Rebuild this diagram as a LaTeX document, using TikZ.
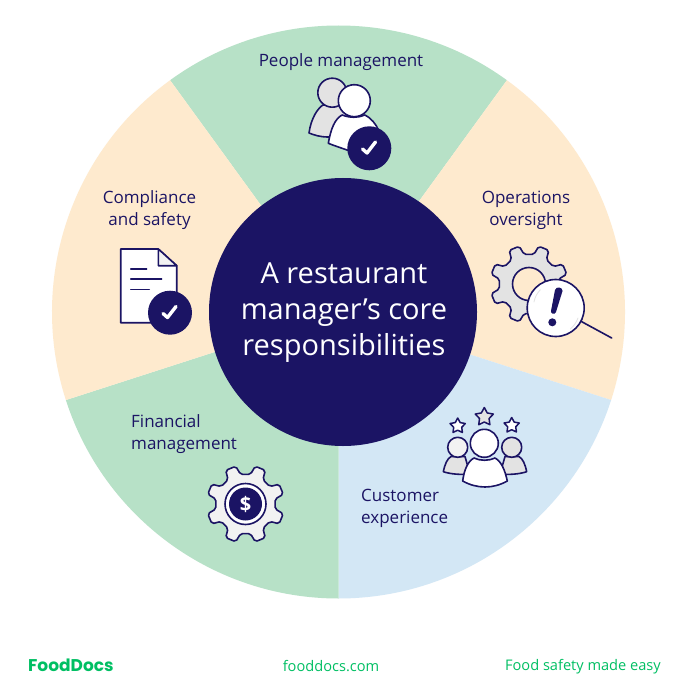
\documentclass[tikz,border=0pt]{standalone}
\usetikzlibrary{shapes.geometric}
\usepackage{fontspec}
\setmainfont{Open Sans}
\newfontfamily\logofont{Poppins}
\definecolor{navy}{HTML}{1B1464}
\definecolor{mint}{HTML}{B7E1C7}
\definecolor{peach}{HTML}{FEEACE}
\definecolor{sky}{HTML}{D3E7F5}
\definecolor{brand}{HTML}{00BF63}
\definecolor{ltgray}{HTML}{E3E3E3}
\definecolor{pale}{HTML}{F2F2F2}
\begin{document}
\begin{tikzpicture}[x=1pt,y=-1pt,line cap=round,line join=round,
    label/.style={text=navy,font=\fontsize{17}{22}\selectfont,inner sep=0pt,align=center},
    foot/.style={text=brand,font=\fontsize{14.6}{16}\selectfont,inner sep=0pt},
    icon/.style={draw=navy,line width=1.6pt},
    staricon/.style={icon,star,star points=5,star point ratio=1.9,inner sep=0pt,line width=1.5pt},
    tick/.style={draw=white,line width=3.4pt,line cap=round}]
    \useasboundingbox (0,0) rectangle (686,692);
    \fill[white] (0,0) rectangle (686,692);
    \def\cx{338.5} % wheel centre
    \def\cy{312}
    \def\R{286.5}
    % sectors
    \foreach \a/\b/\c in {-126/-54/mint,-54/17.9/peach,17.9/90/sky,90/162.1/mint,162.1/234/peach}
        \fill[\c] (\cx,\cy) -- ++(\a:\R) arc (\a:\b:\R) -- cycle;
    \fill[navy] (343,312) circle (134);
    \node[text=white,font=\fontsize{29}{36}\selectfont,align=center,inner sep=0pt] (title) at (344,312.5) {A restaurant\\manager’s core\\responsibilities};
    % labels
    \node[label] (people) at (341,62) {People management};
    \node[label] (operations) at (526,210) {Operations\\oversight};
    \node[label] (compliance) at (149.5,210) {Compliance\\and safety};
    \node[label,align=left,anchor=west] (financial) at (131,434) {Financial\\management};
    \node[label,align=left,anchor=west] (customer) at (361,508) {Customer\\experience};
    % people icon
    \draw[icon,fill=ltgray] (309,133) .. controls (311,118) and (318,108) .. (323,105) -- (345,105) -- (352,138) -- (328,137) .. controls (320,137) and (314,135) .. (309,133) -- cycle;
    \draw[icon,fill=ltgray] (332.3,92.7) circle (14.5);
    \draw[icon,fill=white] (328.3,143.3) .. controls (331,128) and (335,119) .. (342,115) .. controls (350,118) and (358,118) .. (365,115) .. controls (371,118) and (376,124) .. (379,131) -- (372,160) .. controls (355,152) and (340,148) .. (328.3,143.3) -- cycle;
    \draw[icon,fill=white] (354.3,100.7) circle (16);
    \fill[navy] (369.3,148.3) circle (22);
    \draw[tick] (362.5,149) -- (367,153) -- (375.5,142);
    % operations icon
    \begin{scope}[shift={(529,284)}]
        \draw[icon,fill=ltgray,rounded corners=2pt] (9.5:30) \foreach \k in {0,...,7} { -- ({22.5+45*\k-13}:30) -- ({22.5+45*\k-8}:39) -- ({22.5+45*\k+8}:39) -- ({22.5+45*\k+13}:30) } -- cycle;
        \draw[icon,fill=peach] (0,0) circle (16.5);
    \end{scope}
    \draw[navy,line width=1.6pt] (581.7,321.7) -- (611.7,338);
    \draw[icon,fill=white] (555.7,308) circle (28.5);
    \fill[navy] (555,290) .. controls (556,286) and (563,287) .. (562.5,291) -- (556,312) .. controls (555,315) and (550.5,314) .. (551,311) -- cycle;
    \fill[navy] (552.3,322.3) circle (4);
    \draw[ltgray,line width=.8pt] (534,302) arc (190:225:23);
    \draw[ltgray,line width=.8pt] (578,318) arc (20:50:26);
    % customer icon
    \draw[icon,fill=ltgray] (443.3,471.7) .. controls (445,464) and (447,459) .. (451,456.5) -- (465,456.5) -- (470,474) .. controls (461,475) and (450,474) .. (443.3,471.7) -- cycle;
    \draw[icon,fill=pale] (457.7,447.3) circle (10);
    \draw[icon,fill=ltgray] (526.7,471.7) .. controls (525,464) and (523,459) .. (519,456.5) -- (505,456.5) -- (500,474) .. controls (509,475) and (520,474) .. (526.7,471.7) -- cycle;
    \draw[icon,fill=ltgray] (511.7,447.3) circle (10);
    \draw[icon,fill=white] (462.7,481) .. controls (464,470) and (468,461) .. (474,458) .. controls (480,461) and (489,461) .. (495,458) .. controls (501,461) and (505,470) .. (507.3,481) .. controls (493,489) and (477,489) .. (462.7,481) -- cycle;
    \draw[icon,fill=white] (484.3,443.3) circle (14);
    \node[staricon,fill=ltgray,minimum size=19pt] (starmid) at (484.3,417) {};
    \node[staricon,fill=white,minimum size=16pt] (starleft) at (457.7,426) {};
    \node[staricon,fill=white,minimum size=16pt] (starright) at (511.7,425.5) {};
    % financial icon
    \begin{scope}[shift={(245.5,504)}]
        \draw[icon,fill=pale,rounded corners=2pt] (9.5:30) \foreach \k in {0,...,7} { -- ({22.5+45*\k-13}:30) -- ({22.5+45*\k-8}:39) -- ({22.5+45*\k+8}:39) -- ({22.5+45*\k+13}:30) } -- cycle;
        \draw[icon,fill=white] (0,0) circle (20.5);
        \fill[navy] (0,0) circle (16.5);
    \end{scope}
    \node[text=white,font=\fontsize{20}{20}\selectfont\bfseries,inner sep=0pt] (dollar) at (245.5,504) {\$};
    % compliance icon
    \draw[icon,fill=white] (120.7,249) -- (158.3,249) -- (176.7,265.7) -- (176.7,322.7) -- (120.7,322.7) -- cycle;
    \draw[icon,fill=pale] (158.3,249) -- (158.3,265.7) -- (176.7,265.7) -- cycle;
    \foreach \y/\e in {269/146.7,279/161.7,289.3/149.3}
        \draw[navy,line width=1.4pt] (130.7,\y) -- (\e,\y);
    \fill[navy] (170,312.7) circle (22);
    \draw[tick] (163,313.5) -- (167.5,317.5) -- (176,306.5);
    % footer
    \node[text=brand,font=\logofont\bfseries\fontsize{17}{17}\selectfont,inner sep=0pt,anchor=west] (logo) at (28,665) {FoodDocs};
    \node[foot] (site) at (331,666.5) {fooddocs.com};
    \node[foot,anchor=east] (slogan) at (661,666.5) {Food safety made easy};
\end{tikzpicture}
\end{document}
